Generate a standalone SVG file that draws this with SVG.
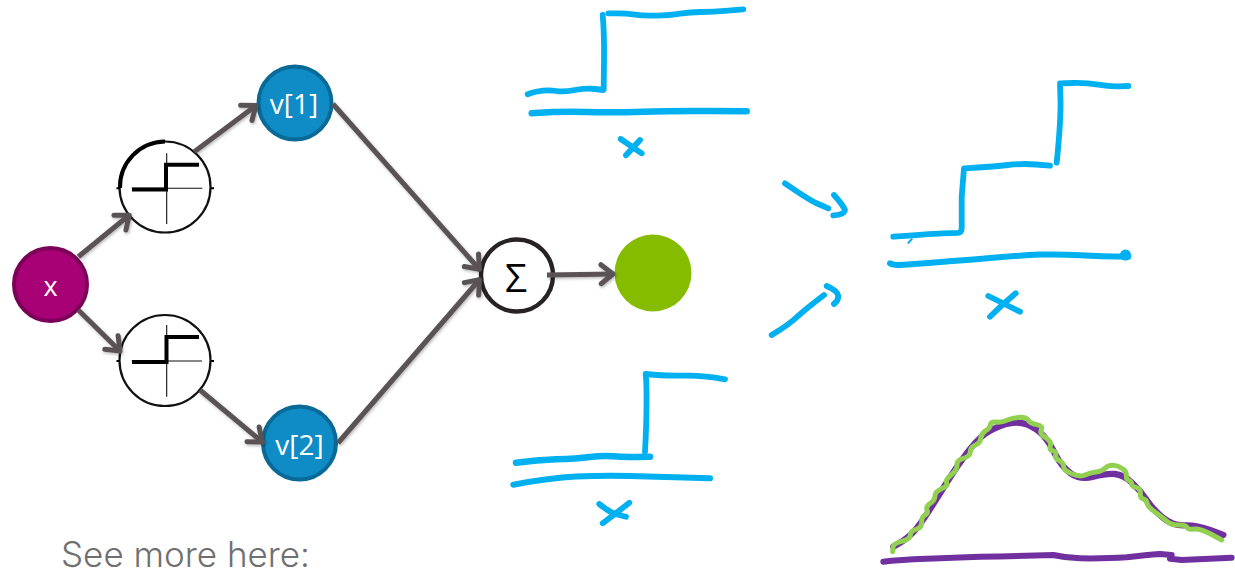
<svg xmlns="http://www.w3.org/2000/svg" width="1235" height="568" viewBox="0 0 1235 568">
<style>
.cy{fill:none;stroke:#00b0f0;stroke-width:5.800;stroke-linecap:round;stroke-linejoin:round}
.ink{fill:none;stroke-linecap:round;stroke-linejoin:round}
.conn{fill:none;stroke:#5a5354;stroke-width:5;marker-end:url(#ah)}
.lbl{font-family:"Open Sans","Noto Sans",sans-serif;fill:#fff;text-anchor:middle;font-size:28px}
.stepc{fill:#fff;stroke:#111;stroke-width:2.200}
.thin{fill:none;stroke:#111;stroke-width:1.100}
.thick{fill:none;stroke:#000;stroke-width:4}
</style>
<defs>
<marker id="ah" markerUnits="userSpaceOnUse" markerWidth="24" markerHeight="28" refX="17" refY="12" orient="auto" overflow="visible">
<path d="M4 2.500L16 12L4 21.500" fill="none" stroke="#5a5354" stroke-width="5" stroke-linecap="round" stroke-linejoin="round"/>
</marker>
<filter id="sh" x="-20%" y="-20%" width="140%" height="140%"><feDropShadow dx="1" dy="1.500" stdDeviation="1.500" flood-color="#000" flood-opacity=".28"/></filter>
</defs>
<g id="node-x"><circle cx="50.500" cy="284.500" r="36.500" fill="#a80075" stroke="#7b0057" stroke-width="4"/><text class="lbl" x="50.500" y="296" style="font-size:27px">x</text></g>
<g id="node-step1"><circle class="stepc" cx="165" cy="187" r="45.500"/><path d="M120 188A45.500 45.500 0 0 1 165 141.500" fill="none" stroke="#000" stroke-width="4"/><path class="thin" d="M131.700 188.300H202.300M166.700 153.300V224"/><path class="thick" d="M132 189.500H166V164.700H199"/><path d="M116.500 188.300H120M211 188.300H214" stroke="#000" stroke-width="2"/></g>
<g id="node-step2"><circle class="stepc" cx="165" cy="360.500" r="45.500"/><path class="thin" d="M131.700 361H202M166.700 325V396.700"/><path class="thick" d="M132 362H166.500V337H199"/><path d="M116.500 361H120M211 361H214" stroke="#000" stroke-width="2"/></g>
<g id="node-v1"><circle cx="295" cy="103" r="36.500" fill="#0f8cc5" stroke="#0a6a97" stroke-width="4"/><text class="lbl" x="294" y="114">v[1]</text></g>
<g id="node-v2"><circle cx="299.500" cy="443" r="36.500" fill="#0f8cc5" stroke="#0a6a97" stroke-width="4"/><text class="lbl" x="299.500" y="455">v[2]</text></g>
<g id="node-sum"><circle cx="517" cy="275.500" r="36" fill="#fff" stroke="#272324" stroke-width="4.400"/><text x="516" y="291.500" font-family="'Open Sans','Noto Sans',sans-serif" font-size="39" text-anchor="middle" fill="#000">Σ</text></g>
<g id="node-out"><circle cx="653" cy="273" r="38.500" fill="#86bc00"/></g>
<g id="connectors" filter="url(#sh)">
<path class="conn" d="M78.300 256.700L130 214.500"/>
<path class="conn" d="M78.300 310L120.700 351.700"/>
<path class="conn" d="M194.300 151.700L256.700 105"/>
<path class="conn" d="M200 390L263 442.700"/>
<path class="conn" d="M333 104L480 270"/>
<path class="conn" d="M338 443L480 279"/>
<path class="conn" d="M547 275L614 274"/>
</g>
<g id="sketch-top">
<path class="cy" d="M527.700 94.300L532 92.800Q536.700 91.300 543 90.600Q550 90 556.500 91Q563 92.300 575 90Q586.700 88 595 89L603.300 90"/>
<path class="cy" d="M602.700 15Q604.300 33 604 60L603.700 89"/>
<path class="cy" d="M608.300 13.300L617 13.300Q626.700 13.300 635 14.600Q643.300 16 656 15.600Q670 15.300 680 13.600Q690 12 701 12Q713.300 12 728 10.600L743.300 9.300"/>
<path class="cy" d="M531.700 113.300Q560 111.300 586 112Q613.300 112.700 643 111.700Q673.300 110.700 710 111L746.700 111.300" style="stroke-width:6.500"/>
<path class="cy" d="M620.700 139L641.700 153.300M640 140L626 155.300"/>
</g>
<g id="sketch-bottom">
<path class="cy" d="M516 462.700Q536.700 460 556 459.300Q576.700 458.700 590 457Q603.300 455.300 613 456.300Q623.300 457.300 636 457L650 456.700" style="stroke-width:6.500"/>
<path class="cy" d="M645 451.700Q646.700 420 646.500 400Q646.700 385 645.700 374L657 375Q670 376 686 375.600Q703.300 375.300 725 379.300"/>
<path class="cy" d="M513.300 484.700Q550 478 576 476.600Q603.300 475.300 630 476L710 478.300" style="stroke-width:6"/>
<path class="cy" d="M599.300 504Q606 510 615 514L626 516.700M629.300 502.700Q616.700 512.700 602.700 523.300"/>
</g>
<g id="sketch-sum">
<path class="cy" d="M893.300 236.700Q926.700 234 943 233.300L958 232.800Q961.700 232.500 961.700 228L961.700 196.700L964 168.300L978 167.500Q993.300 166.700 1008 165Q1023.300 163.300 1036 164.500L1050 165.700"/>
<path class="cy" d="M911.700 239.300L908.300 242.700" style="stroke-width:2"/>
<path class="cy" d="M1056.700 162.700Q1061 120 1060.500 100L1060 83.300L1073 83Q1086.700 82.700 1098 84.700Q1110 86.700 1119 86.400L1128.300 86"/>
<path class="cy" d="M890 263.300Q893 265 900 265Q960 260.700 990 258Q1020 255.300 1040 254.600Q1060 254 1080 255.300Q1100 256.700 1128.300 256.700" style="stroke-width:6"/>
<circle cx="1125.500" cy="255" r="5.500" fill="#00b0f0"/>
<path class="cy" d="M988.300 296Q1003.300 303.300 1020 311.700M1015.700 293.300Q1001.700 305 990 316.700"/>
<path class="cy" d="M785 183.300Q806.700 198.300 816 203L828.300 208.300"/>
<path class="cy" d="M834 195Q843 205 845 210Q844 215 833.300 215.300"/>
<path class="cy" d="M771.700 335Q790 324 798 316Q806.700 308.300 824 295"/>
<path class="cy" d="M826.700 286Q838 291 838.300 296Q838.300 301 834 304"/>
</g>
<g id="sketch-curve" transform="translate(880 400) scale(.33333)">
<path class="ink" stroke="#7030a0" stroke-width="19" d="M40 440L65 425Q90 410 110 385Q130 360 155 320Q180 280 205 240Q230 200 260 160Q290 120 315 102Q340 85 375 73Q410 62 440 73Q470 85 490 107Q510 130 527 165Q545 200 572 220Q600 240 640 230Q680 220 705 222Q730 225 755 247Q780 270 800 300Q820 330 850 354Q880 378 915 376Q950 375 990 390L1030 405"/>
<path class="ink" stroke="#7030a0" stroke-width="18" d="M10 485Q60 480 100 478Q200 473 300 470Q420 468 520 465Q560 474 600 475Q680 476 740 472Q800 465 840 462L875 465L870 476L905 480L1055 473"/>
<path class="ink" stroke="#92d050" stroke-width="15" d="M38 455L39 442Q40 430 65 424Q90 418 91 405Q92 392 108 388Q125 385 125 367Q125 350 135 345Q145 340 141 330Q137 320 151 310Q165 300 165 287Q165 275 185 266Q205 258 200 249Q195 240 213 225Q232 210 231 195Q230 180 250 175Q270 170 271 155Q272 140 286 135Q300 130 302 115Q305 100 317 92Q330 85 331 75Q332 65 348 66Q365 68 382 60Q400 52 420 52Q440 52 445 61Q450 70 470 74Q490 78 484 89Q478 100 496 112Q515 125 511 137Q507 150 518 152Q530 155 527 165Q525 175 538 182Q552 190 551 200Q550 210 575 221Q600 232 615 225Q630 218 647 216Q665 215 675 205Q685 195 700 196Q715 197 727 206Q740 215 739 226Q738 238 746 241Q755 245 755 252Q755 260 768 262Q782 265 781 280Q780 295 790 297Q800 300 801 310Q803 320 826 337Q850 355 862 365Q875 375 896 375Q918 375 921 382Q925 390 942 387Q960 385 992 402L1025 420"/>
</g>
<text x="61" y="566.500" font-family="Inter,'Open Sans',sans-serif" font-weight="300" font-size="35" fill="#6f6f6f">See more here:</text>
</svg>
